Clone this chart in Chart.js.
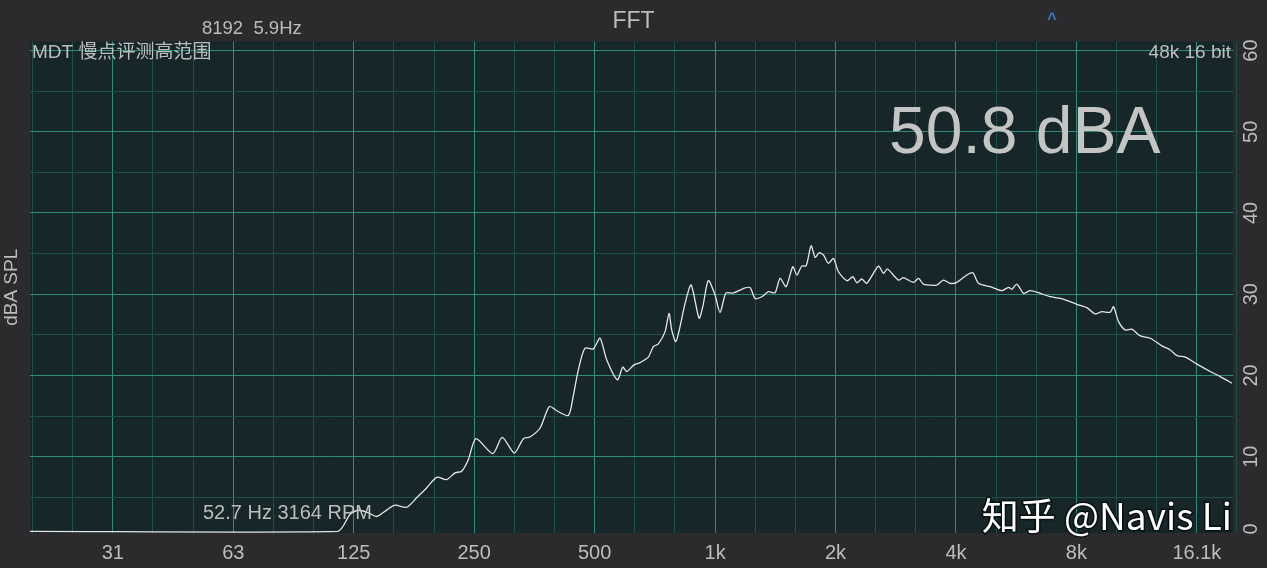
<!DOCTYPE html>
<html>
<head>
<meta charset="utf-8">
<script src="https://cdn.jsdelivr.net/npm/chart.js@4/dist/chart.umd.min.js"></script>
<style>
  html, body { margin: 0; padding: 0; background: #2b2b2e; }
  #box { width: 1267px; height: 568px; }
</style>
</head>
<body>
<div id="box"><canvas id="fft"></canvas></div>
<script>
// frequency (Hz) and level (dBA)
var freqs = [19.4, 113.9, 122.3, 128.1, 135.6, 142.6, 149.6, 158.4, 169.5, 179.5, 190.1,
  201.5, 213.4, 223.9, 232.6, 241.7, 252.6, 278.1, 293.8, 314.9, 331.8,
  344.5, 365.3, 385.3, 402, 429.9, 442.2, 455.3, 473, 496.2, 515.8,
  535.9, 570, 587.7, 601.7, 627.2, 649.3, 681.1, 701.3, 721.5, 750,
  767.3, 779.1, 797.7, 817.5, 841.5, 871.2, 912, 931.7, 961.9, 1000,
  1029, 1065, 1111, 1177, 1223, 1259, 1309, 1359, 1412, 1454,
  1505, 1564, 1601, 1647, 1689, 1738, 1779, 1820, 1866, 1920,
  1977, 2034, 2135, 2210, 2261, 2326, 2395, 2560, 2635, 2696,
  2872, 2957, 3132, 3225, 3317, 3582, 3722, 3869, 4020, 4258,
  4408, 4553, 4871, 5209, 5411, 5518, 5680, 5901, 6130, 6494,
  6878, 7286, 7644, 8022, 8497, 8914, 9265, 9721, 9905, 10196,
  10593, 11012, 11552, 12235, 13086, 13728, 14270, 14970, 16011, 17280,
  18304, 19576];
var levels = [0.8, 0.8, 2.87, 3.4, 3.12, 2.63, 3.28, 4.02, 3.77, 4.93, 6.15,
  7.46, 7.17, 8.0, 8.2, 9.63, 12.21, 10.37, 12.37, 10.45, 12.21,
  12.42, 13.53, 16.18, 15.65, 15.07, 17.49, 20.69, 23.35, 23.27, 24.58,
  21.92, 19.46, 21.02, 20.48, 21.3, 21.58, 22.25, 23.55, 23.88, 25.39,
  27.65, 25.6, 24.16, 26.01, 28.88, 31.13, 27.04, 28.46, 31.68, 29.9,
  27.75, 30.15, 30.15, 30.7, 30.82, 29.47, 29.69, 30.31, 30.18, 31.95,
  30.92, 33.38, 32.36, 33.46, 33.5, 35.96, 34.53, 35.1, 34.82, 33.8,
  34.41, 32.76, 31.66, 32.15, 31.41, 31.87, 31.34, 33.46, 32.57, 33.1,
  31.74, 32.03, 31.46, 31.95, 31.25, 31.13, 31.74, 31.34, 31.46, 32.36,
  32.64, 31.34, 30.92, 30.43, 30.85, 30.6, 31.25, 30.11, 30.43, 30.11,
  29.69, 29.5, 29.16, 28.76, 28.34, 27.57, 27.85, 27.78, 28.46, 26.62,
  25.6, 25.69, 24.86, 24.58, 23.64, 23.14, 22.44, 22.25, 21.39, 20.48,
  19.86, 19.05];

// octave ticks along the bottom
var octaveFreqs = [31.25, 62.5, 125, 250, 500, 1000, 2000, 4000, 8000, 16000];
var octaveLabels = ['31', '63', '125', '250', '500', '1k', '2k', '4k', '8k', '16.1k'];
var levelTicks = [5, 10, 15, 20, 25, 30, 35, 40, 45, 50, 55, 60];
var levelLabels = [0, 10, 20, 30, 40, 50, 60];

var grey = '#bdbdbd';
var gridBright = '#2e8b7b';
var gridDim = '#1d5049';

// third-octave grid lines around each octave tick
var gridFreqs = [];
octaveFreqs.forEach(function (f) {
    gridFreqs.push(f * Math.pow(2, -2 / 3), f * Math.pow(2, -1 / 3), f);
});
gridFreqs.push(16000 * Math.pow(2, 1 / 3));

function isOctave(v) {
    return octaveFreqs.some(function (f) { return Math.abs(f - v) < 0.01 * f; });
}

var points = freqs.map(function (f, i) { return { x: f, y: levels[i] }; });

var plotBg = {
    id: 'plotBg',
    beforeDraw: function (chart) {
        var a = chart.chartArea, c = chart.ctx;
        c.save();
        c.fillStyle = '#162629';
        c.fillRect(a.left, a.top, a.right - a.left, a.bottom - a.top);
        c.restore();
    }
};

// level labels on the right, turned to read upwards
var levelAxis = {
    id: 'levelAxis',
    afterDraw: function (chart) {
        var a = chart.chartArea, c = chart.ctx, s = chart.scales.y;
        c.save();
        c.fillStyle = grey;
        c.font = '20px "Liberation Sans", Arial, sans-serif';
        c.textAlign = 'center';
        c.textBaseline = 'middle';
        levelLabels.forEach(function (v) {
            var py = Math.min(s.getPixelForValue(v), a.bottom - 4);
            c.save();
            c.translate(a.right + 18, py);
            c.rotate(-Math.PI / 2);
            c.fillText(String(v), 0, 0);
            c.restore();
        });
        c.restore();
    }
};

var overlay = {
    id: 'overlay',
    afterDraw: function (chart) {
        var a = chart.chartArea, c = chart.ctx;
        c.save();
        c.textBaseline = 'alphabetic';
        c.fillStyle = grey;
        c.font = '18.5px "Liberation Sans", Arial, sans-serif';
        c.textAlign = 'left';
        c.fillText('8192  5.9Hz', 202, 34);
        c.font = '19px "Liberation Sans", "Noto Sans CJK SC", sans-serif';
        c.fillText('MDT 慢点评测高范围', a.left + 2, a.top + 16);
        c.textAlign = 'right';
        c.fillText('48k 16 bit', a.right - 2, a.top + 16);
        c.fillStyle = '#3b78c4';
        c.textAlign = 'center';
        c.font = 'bold 16px "Liberation Sans", sans-serif';
        c.fillText('^', 1052, 24);
        c.fillStyle = '#c4c4c4';
        c.textAlign = 'left';
        c.font = '66px "Liberation Sans", Arial, sans-serif';
        c.fillText('50.8 dBA', 889, 153);
        c.fillStyle = grey;
        c.font = '20px "Liberation Sans", Arial, sans-serif';
        c.fillText('52.7 Hz 3164 RPM', 203, 519);
        // watermark
        c.textAlign = 'right';
        c.font = '37px "Noto Sans CJK SC", sans-serif';
        c.lineWidth = 3;
        c.strokeStyle = 'rgba(0,0,0,0.6)';
        c.strokeText('知乎 @Navis Li', a.right - 1, a.bottom - 3);
        c.fillStyle = '#ffffff';
        c.fillText('知乎 @Navis Li', a.right - 1, a.bottom - 3);
        c.restore();
    }
};

new Chart(document.getElementById('fft'), {
    type: 'line',
    data: {
        datasets: [{
            data: points,
            borderColor: '#e6e6e6',
            borderWidth: 1.3,
            pointRadius: 0,
            tension: 0.25,
            fill: false
        }]
    },
    options: {
        responsive: true,
        maintainAspectRatio: false,
        animation: false,
        layout: { padding: 0 },
        plugins: {
            legend: { display: false },
            tooltip: { enabled: false },
            title: {
                display: true,
                text: 'FFT',
                color: grey,
                font: { size: 23, family: '"Liberation Sans", Arial, sans-serif', weight: 'normal' },
                padding: { top: 8, bottom: 6 }
            }
        },
        scales: {
            x: {
                type: 'logarithmic',
                min: 19.4,
                max: 19700,
                afterBuildTicks: function (scale) {
                    scale.ticks = gridFreqs.map(function (v) { return { value: v }; });
                },
                afterFit: function (scale) { scale.height = 35; },
                border: { display: false },
                grid: {
                    color: function (c) { return isOctave(c.tick.value) ? gridBright : gridDim; },
                    lineWidth: 1,
                    drawTicks: false
                },
                ticks: {
                    autoSkip: false,
                    maxRotation: 0,
                    padding: 8,
                    color: grey,
                    font: { size: 20, family: '"Liberation Sans", Arial, sans-serif' },
                    callback: function (value) {
                        var i = octaveFreqs.findIndex(function (f) { return Math.abs(f - value) < 0.01 * f; });
                        return i >= 0 ? octaveLabels[i] : '';
                    }
                }
            },
            y: {
                position: 'right',
                min: 0.6,
                max: 61.1,
                afterBuildTicks: function (scale) {
                    scale.ticks = levelTicks.map(function (v) { return { value: v }; });
                },
                afterFit: function (scale) { scale.width = 34; },
                border: { display: false },
                grid: {
                    color: function (c) { return c.tick.value % 10 === 0 ? gridBright : gridDim; },
                    drawTicks: false
                },
                ticks: { display: false }
            },
            yl: {
                position: 'left',
                afterFit: function (scale) { scale.width = 30; },
                border: { display: false },
                grid: { display: false },
                ticks: { display: false },
                title: {
                    display: true,
                    text: 'dBA SPL',
                    color: grey,
                    padding: 0,
                    font: { size: 19, family: '"Liberation Sans", Arial, sans-serif' }
                }
            }
        }
    },
    plugins: [plotBg, levelAxis, overlay]
});
</script>
</body>
</html>
